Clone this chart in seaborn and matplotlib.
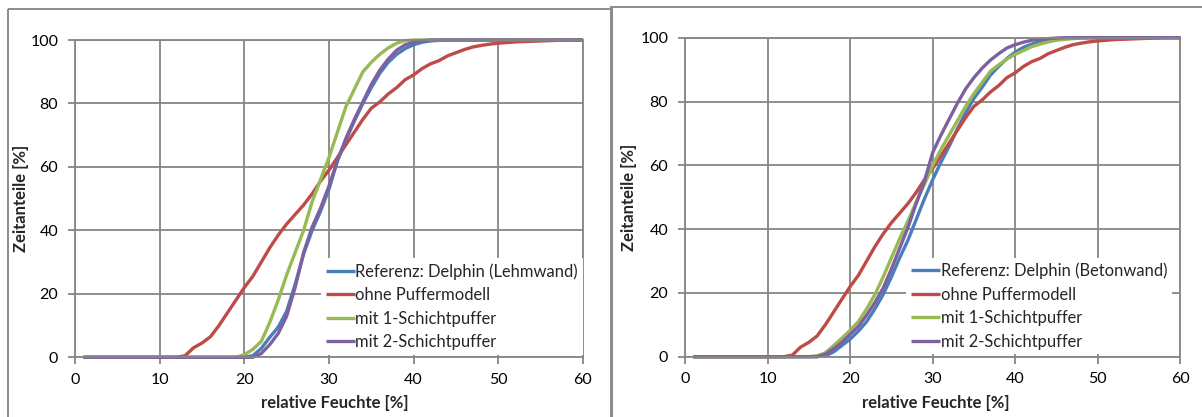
import matplotlib
matplotlib.use("Agg")
import matplotlib.pyplot as plt
from matplotlib.lines import Line2D
import pandas as pd
import seaborn as sns

# ---------------- data ----------------
rh = list(range(1, 61))

ohne_puffer = [0] * 12 + [
    0.5, 3, 4.5, 6.5, 10, 14, 18, 22, 25.5, 30, 34.5, 38.5, 42, 45, 48, 51.5,
    55.5, 59, 63, 67, 71, 75, 78.5, 80.5, 83, 85, 87.5, 89, 91, 92.5, 93.5, 95,
    96, 97, 97.8, 98.3, 98.7, 99, 99.2, 99.4, 99.5, 99.6, 99.7, 99.8, 99.9,
    100, 100, 100]

lehm_ref = [0] * 20 + [
    0.5, 2.8, 6.3, 9.5, 14.5, 23, 32.5, 40, 46, 53, 62, 68.5, 74.5, 80, 85,
    89.5, 93, 95.5, 97.3, 98.5, 99.3, 99.7, 99.9] + [100] * 17
lehm_1s = [0] * 19 + [
    0.8, 2.5, 5, 11, 18, 26, 33, 40, 49, 56, 63, 71, 79, 84.5, 90, 93, 95.5,
    97.5, 99, 99.8] + [100] * 21
lehm_2s = [0] * 21 + [
    1.2, 4, 7.5, 13, 22, 33, 41, 47, 54, 62, 69, 75, 80.5, 86, 90.5, 94, 96.8,
    98.5, 99.3, 99.8] + [100] * 19

beton_ref = [0] * 16 + [
    0.3, 1.5, 3.5, 5.5, 8, 11, 15, 19.5, 25, 31, 36.5, 43, 49.5, 55.5, 61, 66,
    71.5, 76.5, 81, 84.5, 88.3, 91, 93.5, 95.5, 97, 98, 98.8, 99.3, 99.6,
    99.8] + [100] * 14
beton_1s = [0] * 15 + [
    0.3, 1.2, 3.5, 5.8, 8.3, 11, 15, 19.5, 25, 31, 37, 42.5, 48.5, 54, 60, 65,
    69.5, 74, 78.5, 82.5, 86, 89.5, 91.5, 93.3, 94.8, 96, 97.2, 98, 98.7, 99.2,
    99.5, 99.7, 99.9] + [100] * 12
beton_2s = [0] * 16 + [
    0.8, 2.5, 4.5, 7, 9.5, 13, 17, 21.5, 27.5, 34, 40.5, 48, 55, 64, 69.5,
    74.5, 79.5, 84, 87.5, 90.5, 93, 95, 96.8, 97.8, 98.6, 99.2, 99.5, 99.7,
    99.9] + [100] * 15

labels_lehm = ["Referenz: Delphin (Lehmwand)", "ohne Puffermodell",
               "mit 1-Schichtpuffer", "mit 2-Schichtpuffer"]
labels_beton = ["Referenz: Delphin (Betonwand)", "ohne Puffermodell",
                "mit 1-Schichtpuffer", "mit 2-Schichtpuffer"]
x_ticks = [0, 10, 20, 30, 40, 50, 60]
y_ticks = [0, 20, 40, 60, 80, 100]
x_label = "relative Feuchte [%]"
y_label = "Zeitanteile [%]"

# ---------------- style ----------------
colors = ["#4A7EBB", "#BE4B48", "#98B954", "#7D60A0"]
GRID = "#868686"

sns.set_theme(style="white")
plt.rcParams["font.family"] = ["Lato", "DejaVu Sans"]

W, H = 1202, 417
fig = plt.figure(figsize=(W / 100, H / 100), dpi=100)


def rect(x0, x1, ytop, ybot):
    return [x0 / W, 1 - ybot / H, (x1 - x0) / W, (ybot - ytop) / H]


def panel(ax, labels, series, xlab_x, ylab_x, leg_anchor):
    df = pd.DataFrame({
        "rh": rh * len(series),
        "val": [v for s in series for v in s],
        "series": [lab for lab, s in zip(labels, series) for _ in s],
    })
    sns.lineplot(data=df, x="rh", y="val", hue="series", hue_order=labels,
                 palette=colors, linewidth=2.4, estimator=None, sort=False,
                 ax=ax)
    for ln in ax.lines:
        ln.set_clip_on(False)
        ln.set_solid_capstyle("butt")
    ax.set_xlim(0, 60)
    ax.set_ylim(0, 100)
    ax.set_xticks(x_ticks)
    ax.set_yticks(y_ticks)
    ax.set_axisbelow(True)
    ax.grid(True, color=GRID, linewidth=1.3)
    for sp in ax.spines.values():
        sp.set_visible(True)
        sp.set_color(GRID)
        sp.set_linewidth(1.3)
    ax.tick_params(bottom=True, left=True, length=5, width=1.3, color=GRID,
                   labelsize=11.5, labelcolor="black")
    ax.tick_params(axis="y", pad=7)
    ax.tick_params(axis="x", pad=6)
    ax.set_xlabel(x_label, fontweight="bold", fontsize=12)
    ax.set_ylabel(y_label, fontweight="bold", fontsize=12)
    ax.xaxis.set_label_coords(xlab_x, -0.144)
    ax.xaxis.label.set_va("center")
    ax.yaxis.set_label_coords(ylab_x, 0.5)
    ax.yaxis.label.set_va("center")
    handles, labs = ax.get_legend_handles_labels()
    leg = ax.legend(handles, labs, loc="lower right", bbox_to_anchor=leg_anchor,
                    frameon=True, facecolor="white", edgecolor="none",
                    framealpha=1, fancybox=False, borderpad=0.3,
                    borderaxespad=0, handlelength=1.75, handletextpad=0.05,
                    labelspacing=0.45, fontsize=11.9)
    for h in leg.legend_handles:
        h.set_linewidth(2.4)


ax1 = fig.add_axes(rect(75, 583, 40, 357.3))
ax2 = fig.add_axes(rect(685, 1180.4, 37.7, 356.7))
panel(ax1, labels_lehm, [lehm_ref, ohne_puffer, lehm_1s, lehm_2s],
      0.512, -0.106, (1.0, 0.007))
panel(ax2, labels_beton, [beton_ref, ohne_puffer, beton_1s, beton_2s],
      0.507, -0.113, (0.983, 0.007))

# chart-area borders
BORDER = "#8C8C8C"


def fline(x0, y0, x1, y1, lw):
    fig.add_artist(Line2D([x0 / W, x1 / W], [1 - y0 / H, 1 - y1 / H],
                          transform=fig.transFigure, color=BORDER,
                          linewidth=lw, solid_capstyle="butt"))


fline(8, 9.3, 8, H + 2, 1.4)
fline(8, 9.3, 610, 9.3, 1.4)
fline(610.5, 7, 610.5, H + 2, 2.2)
fline(610, 7, W + 2, 7, 1.4)

fig.savefig("out.png", dpi=100)
